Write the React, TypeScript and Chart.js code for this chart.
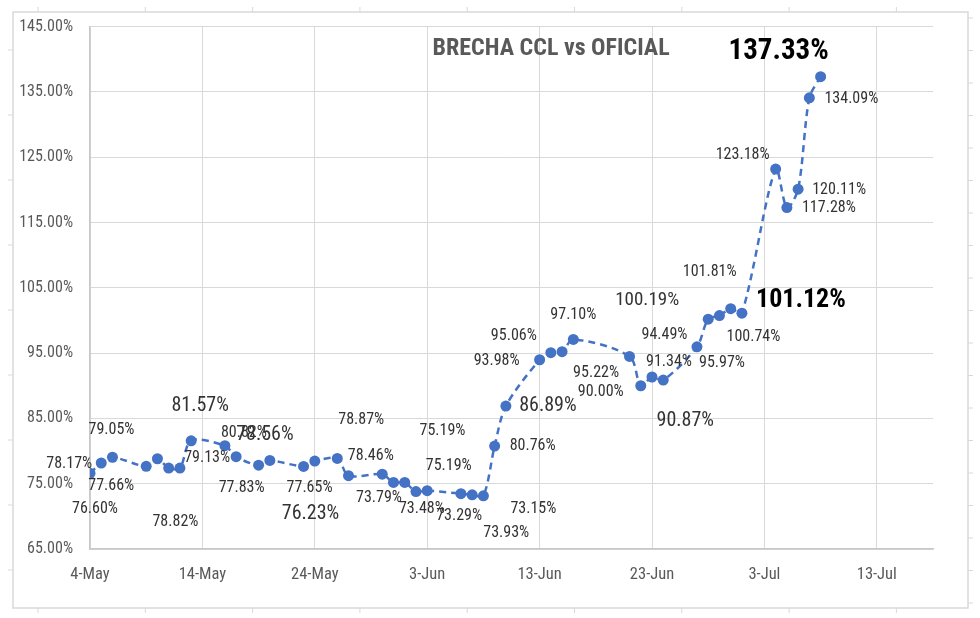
import { useEffect, useRef } from 'react';
import { Chart, registerables } from 'chart.js';

Chart.register(...registerables);

// ---- data ----
const dates = [
  '2022-05-04', '2022-05-05', '2022-05-06', '2022-05-09', '2022-05-10', '2022-05-11', '2022-05-12', '2022-05-13',
  '2022-05-16', '2022-05-17', '2022-05-19', '2022-05-20', '2022-05-23', '2022-05-24', '2022-05-26', '2022-05-27',
  '2022-05-30', '2022-05-31', '2022-06-01', '2022-06-02', '2022-06-03', '2022-06-06', '2022-06-07', '2022-06-08',
  '2022-06-09', '2022-06-10', '2022-06-13', '2022-06-14', '2022-06-15', '2022-06-16', '2022-06-21', '2022-06-22',
  '2022-06-23', '2022-06-24', '2022-06-27', '2022-06-28', '2022-06-29', '2022-06-30', '2022-07-01', '2022-07-04',
  '2022-07-05', '2022-07-06', '2022-07-07', '2022-07-08',
];
const brecha = [
  76.60, 78.17, 79.05, 77.66, 78.82, 77.40, 77.40, 81.57,
  80.82, 79.13, 77.83, 78.56, 77.65, 78.46, 78.87, 76.23,
  76.45, 75.19, 75.19, 73.79, 73.93, 73.48, 73.29, 73.15,
  80.76, 86.89, 93.98, 95.06, 95.22, 97.10, 94.49, 90.00,
  91.34, 90.87, 95.97, 100.19, 100.74, 101.81, 101.12, 123.18,
  117.28, 120.11, 134.09, 137.33,
];
const startDate = '2022-05-04';
const endDate = '2022-07-18';
const xTickDates = ['2022-05-04', '2022-05-14', '2022-05-24', '2022-06-03', '2022-06-13', '2022-06-23', '2022-07-03', '2022-07-13'];
const yTicks = [65, 75, 85, 95, 105, 115, 125, 135, 145];
const monthNames = ['Jan', 'Feb', 'Mar', 'Apr', 'May', 'Jun', 'Jul', 'Aug', 'Sep', 'Oct', 'Nov', 'Dec'];
const title = 'BRECHA CCL vs OFICIAL';

// label placement: [pointIndex, dx, dy, size, bold]
const labelPlacement: [number, number, number, number, boolean][] = [
  [0, 5, 36, 16, false], [1, -32, 1, 16, false], [2, -1, -27, 16, false], [3, -35, 20, 16, false],
  [4, 18, 63, 16, false], [7, 9, -35, 20, false], [8, 19, -13, 16, false], [9, -29, 1, 16, false],
  [10, -17, 23, 16, false], [11, -5, -25, 20, false], [12, 6, 22, 16, false], [13, 56, -5, 16, false],
  [14, 24, -38, 16, false], [15, -38, 38, 20, false], [17, 49, -51, 16, false], [18, 44, -16, 16, false],
  [19, -37, 6, 16, false], [20, 79, 42, 16, false], [21, -39, 15, 16, false], [22, -13, 21, 16, false],
  [23, 50, 13, 16, false], [24, 38, 0, 16, false], [25, 42, 0, 20, false], [26, -43, 1, 16, false],
  [27, -37, -17, 16, false], [28, 34, 21, 16, false], [29, 0, -24, 16, false], [30, 35, -21, 16, false],
  [31, -40, 6, 16, false], [32, 17, -15, 16, false], [33, 22, 41, 20, false], [34, 25, 16, 16, false],
  [35, -61, -19, 19, false], [36, 34, 21, 16, false], [37, -21, -37, 16, false], [38, 59, -13, 26, true],
  [39, -33, -14, 16, false], [40, 42, 0, 16, false], [41, 41, 1, 16, false], [42, 42, 1, 16, false],
  [43, -42, -25, 29, true],
];

const FONT = '"Liberation Sans Narrow", "Roboto Condensed", "Liberation Sans", sans-serif';

function toDay(s: string): number {
  const [y, m, d] = s.split('-').map(Number);
  const [y0, m0, d0] = startDate.split('-').map(Number);
  return Math.round((Date.UTC(y, m - 1, d) - Date.UTC(y0, m0 - 1, d0)) / 86400000);
}
function dayLabel(day: number): string {
  const [y0, m0, d0] = startDate.split('-').map(Number);
  const dt = new Date(Date.UTC(y0, m0 - 1, d0) + day * 86400000);
  return `${dt.getUTCDate()}-${monthNames[dt.getUTCMonth()]}`;
}

const framePlugin = {
  id: 'frame',
  beforeDraw(chart: any) {
    const ctx = chart.ctx;
    const W = chart.width, H = chart.height;
    const l = 13, t = 12, r = W - 12, b = H - 10;
    ctx.save();
    ctx.strokeStyle = '#d9d9d9';
    ctx.lineWidth = 1.5;
    ctx.strokeRect(l, t, r - l, b - t);
    ctx.lineWidth = 1;
    ctx.beginPath();
    for (let x = 38; x < r; x += 107.3) {
      ctx.moveTo(x, t - 5); ctx.lineTo(x, t);
      ctx.moveTo(x, b); ctx.lineTo(x, b + 5);
    }
    for (let y = 50; y < b; y += 65) {
      ctx.moveTo(l - 5, y); ctx.lineTo(l, y);
    }
    for (let y = 18; y < b; y += 32.5) {
      ctx.moveTo(r, y); ctx.lineTo(r + 5, y);
    }
    ctx.stroke();
    ctx.restore();
  },
};

const labelsPlugin = {
  id: 'valueLabels',
  afterDatasetsDraw(chart: any) {
    const ctx = chart.ctx;
    const meta = chart.getDatasetMeta(0);
    ctx.save();
    ctx.textAlign = 'center';
    ctx.textBaseline = 'middle';
    for (const [i, dx, dy, size, bold] of labelPlacement) {
      const el = meta.data[i];
      if (!el) continue;
      ctx.font = `${bold ? 'bold ' : ''}${size}px ${FONT}`;
      ctx.fillStyle = bold ? '#000000' : '#333333';
      ctx.fillText(brecha[i].toFixed(2) + '%', el.x + dx, el.y + dy);
    }
    // title
    ctx.font = `bold 24px ${FONT}`;
    ctx.fillStyle = '#595959';
    const ca = chart.chartArea;
    ctx.fillText(title, ca.left + (ca.right - ca.left) * 0.547, ca.top + 22);
    ctx.restore();
  },
};

export default function App() {
  const ref = useRef<HTMLCanvasElement | null>(null);
  useEffect(() => {
    document.body.style.margin = '0';
    if (!ref.current) return;
    const points = dates.map((d, i) => ({ x: toDay(d), y: brecha[i] }));
    const chart = new Chart(ref.current, {
      type: 'line',
      data: {
        datasets: [
          {
            label: 'Brecha',
            data: points,
            borderColor: '#4472C4',
            backgroundColor: '#4472C4',
            borderWidth: 2.5,
            borderDash: [7, 5],
            pointRadius: 5.5,
            pointHoverRadius: 5.5,
            pointBackgroundColor: '#4472C4',
            pointBorderWidth: 0,
            tension: 0.3,
          },
        ],
      },
      options: {
        responsive: false,
        animation: false,
        layout: { padding: { top: 26, right: 47, bottom: 0, left: 0 } },
        plugins: { legend: { display: false }, tooltip: { enabled: false }, title: { display: false } },
        scales: {
          x: {
            type: 'linear',
            min: toDay(startDate),
            max: toDay(endDate),
            afterBuildTicks: (scale: any) => {
              scale.ticks = xTickDates.map((d) => ({ value: toDay(d) }));
            },
            afterFit: (scale: any) => {
              scale.height = 69;
            },
            grid: { color: '#d9d9d9', lineWidth: 1, drawTicks: false },
            border: { color: '#c8c8c8', width: 1.5 },
            ticks: {
              padding: 16,
              color: '#595959',
              font: { family: FONT, size: 16.5 },
              callback: (v: any) => dayLabel(Number(v)),
              maxRotation: 0,
              autoSkip: false,
            },
          },
          y: {
            min: yTicks[0],
            max: yTicks[yTicks.length - 1],
            afterBuildTicks: (scale: any) => {
              scale.ticks = yTicks.map((v) => ({ value: v }));
            },
            afterFit: (scale: any) => {
              scale.width = 90;
            },
            grid: { color: '#d9d9d9', lineWidth: 1, drawTicks: false },
            border: { color: '#c8c8c8', width: 1.5 },
            ticks: {
              padding: 17,
              color: '#595959',
              font: { family: FONT, size: 16 },
              callback: (v: any) => Number(v).toFixed(2) + '%',
            },
          },
        },
      },
      plugins: [framePlugin, labelsPlugin],
    });
    return () => chart.destroy();
  }, []);
  return <canvas ref={ref} width={980} height={618} style={{ display: 'block' }} />;
}
